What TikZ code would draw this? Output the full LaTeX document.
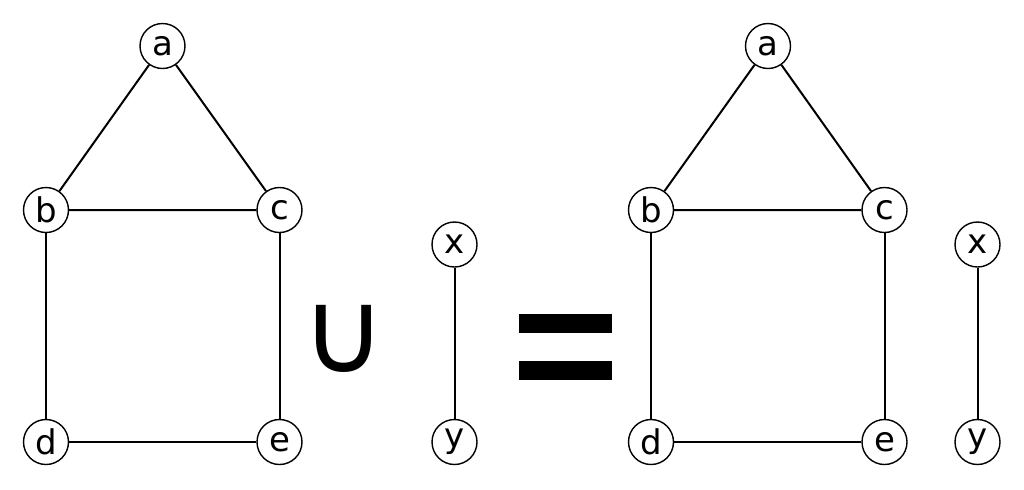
\documentclass[tikz,border=0pt]{standalone}
\usepackage{fontspec}
\setmainfont{DejaVu Sans}
\begin{document}
\begin{tikzpicture}[x=0.5pt,y=-0.5pt,
    vertex/.style={draw,circle,line width=0.7pt,minimum size=22.5pt,inner sep=0pt,font=\fontsize{17}{17}\selectfont,fill=white},
    edge/.style={line width=1pt}]
    \useasboundingbox (0,0) rectangle (1024,489);
    % left graph
    \node[vertex] (a1) at (162.5,46) {a};
    \node[vertex] (b1) at (46,210) {b};
    \node[vertex] (c1) at (279.5,210) {c};
    \node[vertex] (d1) at (46,442) {d};
    \node[vertex] (e1) at (279.5,442) {e};
    \draw[edge] (a1) -- (b1) -- (c1) -- (a1);
    \draw[edge] (b1) -- (d1) -- (e1) -- (c1);
    % union
    \node[font=\fontsize{58}{58}\selectfont,inner sep=0pt] (cup) at (344,338.5) {∪};
    % second graph
    \node[vertex] (x1) at (454.5,244.5) {x};
    \node[vertex] (y1) at (454.5,442) {y};
    \draw[edge] (x1) -- (y1);
    % equals
    \fill (519,314) rectangle (612,333);
    \fill (519,361) rectangle (612,380);
    % result
    \node[vertex] (a2) at (768,46) {a};
    \node[vertex] (b2) at (651,210) {b};
    \node[vertex] (c2) at (884.5,210) {c};
    \node[vertex] (d2) at (651,442) {d};
    \node[vertex] (e2) at (884.5,442) {e};
    \node[vertex] (x2) at (977.5,244.5) {x};
    \node[vertex] (y2) at (977.5,442) {y};
    \draw[edge] (a2) -- (b2) -- (c2) -- (a2);
    \draw[edge] (b2) -- (d2) -- (e2) -- (c2);
    \draw[edge] (x2) -- (y2);
\end{tikzpicture}
\end{document}
